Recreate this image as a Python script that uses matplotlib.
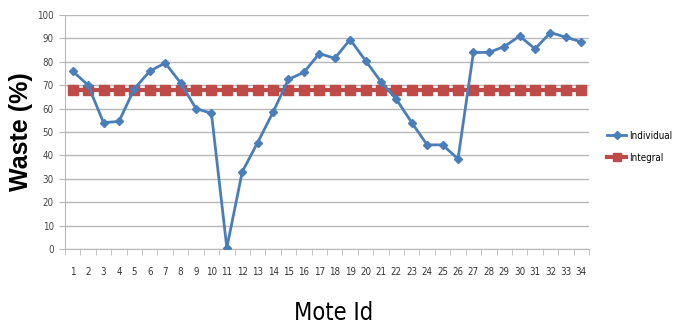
import numpy as np
import matplotlib.pyplot as plt
from matplotlib.lines import Line2D

mote_ids = list(range(1, 35))
individual = [76, 70, 54, 54.5, 68.5, 76, 79.5, 71, 60, 58,
              0.5, 33, 45.5, 58.5, 72.5, 75.5, 83.5, 81.5, 89.5, 80.5,
              71.5, 64, 54, 44.5, 44.5, 38.5, 84, 84, 86.5, 91,
              85.5, 92.5, 90.5, 88.5]
integral = [68] * 34

blue = '#4A7EBB'
red = '#BE4B48'
grid_gray = '#B8B8B8'
narrow_font = dict(family='DejaVu Sans', stretch='condensed')

fig = plt.figure(figsize=(6.76, 3.29), dpi=100)
ax = fig.add_axes([65 / 676, 80 / 329, 524 / 676, 234 / 329])

ax.plot(mote_ids, integral, color=red, lw=3, marker='s', ms=7, zorder=3)
ax.plot(mote_ids, individual, color=blue, lw=2, marker='D', ms=4, zorder=4)

ax.set_xlim(0.5, 34.5)
ax.set_ylim(0, 100)
ax.set_yticks(np.arange(0, 101, 10))
ax.set_xticks(mote_ids)
ax.set_xticks(np.arange(0.5, 35, 1), minor=True)
ax.yaxis.grid(True, color=grid_gray, lw=1)
ax.set_axisbelow(True)
for side in ['top', 'right']:
    ax.spines[side].set_visible(False)
ax.spines['left'].set_color(grid_gray)
ax.spines['bottom'].set_color(grid_gray)
ax.tick_params(axis='x', which='major', length=0, labelsize=7, pad=13, colors='#333333')
ax.tick_params(axis='x', which='minor', length=4, color=grid_gray)
ax.tick_params(axis='y', length=4, color=grid_gray, labelsize=7, labelcolor='#444444', pad=4)
for lbl in ax.get_xticklabels() + ax.get_yticklabels():
    lbl.set_family('DejaVu Sans')
    lbl.set_stretch('condensed')

ax.set_ylabel('Waste (%)', fontsize=18, fontweight='bold', family='Liberation Sans')
ax.yaxis.set_label_coords(-0.061, 0.50)
fig.text(334 / 676, 1 - 313 / 329, 'Mote Id', ha='center', va='center', fontsize=17,
         **narrow_font)

handles = [Line2D([], [], color=blue, lw=2, marker='D', ms=4),
           Line2D([], [], color=red, lw=3, marker='s', ms=6)]
fig.legend(handles, ['Individual', 'Integral'], loc='upper left',
           bbox_to_anchor=(602 / 676, 1 - 126 / 329), frameon=False,
           prop=dict(size=7, **narrow_font),
           handlelength=2.0, handletextpad=0.3, labelspacing=1.2, borderpad=0)

fig.savefig('out.png', dpi=100)
